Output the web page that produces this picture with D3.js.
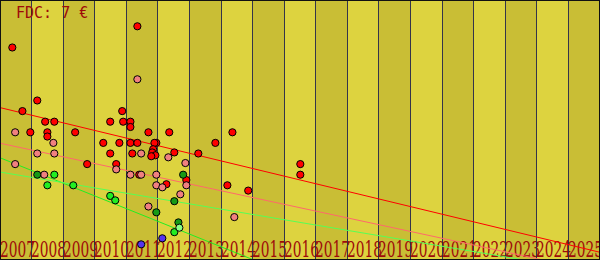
<!DOCTYPE html>
<html>
<head>
<meta charset="utf-8">
<script src="https://cdn.jsdelivr.net/npm/d3@7"></script>
<style>
  html, body { margin: 0; padding: 0; background: #fff; }
  svg { display: block; }
</style>
</head>
<body>
<svg id="chart" width="600" height="260"></svg>
<script>
// ---- data ----
const yearLabels = ["2007","2008","2009","2010","2011","2012","2013","2014","2015","2016",
                    "2017","2018","2019","2020","2021","2022","2023","2024","2025"];
const titleText = "FDC: 7 €";

// points: [decimal year, price]
const redPoints = [
  [2007.39,20],[2011.35,22],[2008.18,15],[2007.71,14],[2010.87,14],
  [2008.43,13],[2008.72,13],[2010.49,13],[2010.90,13],[2011.13,13],[2011.13,12.5],
  [2007.96,12],[2008.50,12],[2008.50,11.6],[2009.38,12],[2011.70,12],[2012.36,12],[2014.36,12],
  [2009.76,9],[2010.27,11],[2010.78,11],[2011.13,11],[2011.35,11],[2011.95,11],[2011.89,11],[2013.82,11],
  [2010.49,10],[2011.19,10],[2011.85,10.4],[2011.82,10.1],[2011.92,9.83],[2011.79,9.74],
  [2012.52,10.1],[2013.28,10],[2010.68,9],[2011.41,8],[2012.90,7.5],[2012.27,7.1],
  [2014.20,7],[2014.86,6.5],[2016.51,9],[2016.51,8]
];
const pinkPoints = [
  [2011.35,17],[2007.48,12],[2008.69,11],[2008.18,10],[2008.72,10],[2007.48,9],
  [2008.40,8],[2011.47,10],[2012.33,9.64],[2012.87,9.1],[2010.68,8.5],[2011.13,8],
  [2011.47,8],[2011.95,8],[2012.90,7],[2011.95,7],[2012.14,6.81],[2012.71,6.15],
  [2011.70,5],[2014.42,4]
];
const darkGreenPoints = [[2008.18,8],[2012.80,8],[2012.52,5.5],[2011.95,4.45],[2012.65,3.5]];
const greenPoints = [[2008.72,8],[2008.50,7],[2009.32,7],[2010.49,6],[2010.65,5.58],[2012.52,2.58]];
const paleGreenPoints = [[2012.68,3]];
const bluePoints = [[2012.14,2],[2011.47,1.43]];

// trend lines: [year, price] endpoints
const redTrend = [[2007,14.33],[2026,0.68]];
const pinkTrend = [[2007,10.97],[2026,-1.2]];
const greenTrendSteep = [[2007,9.6],[2026,-13.2]];
const greenTrendFlat = [[2007,8.25],[2026,-1.25]];

// ---- drawing ----
const W = 600, H = 260;
const svg = d3.select("#chart");
const x = d3.scaleLinear().domain([2007, 2026]).range([0, W]);
const y = d3.scaleLinear().domain([0, 24.48]).range([259.5, 0]);
const years = yearLabels.map(Number);

// stripes
svg.append("g").selectAll("rect").data(years).join("rect")
  .attr("x", d => Math.floor(x(d)))
  .attr("y", 0)
  .attr("width", d => Math.floor(x(d + 1)) - Math.floor(x(d)))
  .attr("height", H)
  .attr("fill", (d, i) => i % 2 === 0 ? "#c9be35" : "#ddd33f");

// axis: gridlines + labels
const axis = d3.axisBottom(x).tickValues(years).tickSize(-H).tickFormat((d, i) => yearLabels[i]);
const ag = svg.append("g").attr("transform", `translate(0,${H})`).call(axis);
ag.select(".domain").remove();
ag.selectAll(".tick").attr("transform", d => `translate(${Math.floor(x(d)) + 0.5},0)`);
ag.selectAll(".tick line").attr("stroke", "#34344a").attr("stroke-width", 1);
ag.selectAll(".tick text")
  .attr("x", -0.5).attr("y", -3.5).attr("dy", null)
  .attr("text-anchor", "start")
  .attr("fill", "#9e0a0a")
  .attr("font-family", "'DejaVu Serif', serif")
  .attr("font-size", 23)
  .attr("textLength", 35)
  .attr("lengthAdjust", "spacingAndGlyphs");

// trend lines
const line = d3.line().x(d => x(d[0])).y(d => y(d[1]));
const trends = [
  [redTrend, "#ff0000"],
  [pinkTrend, "#ff6a6a"],
  [greenTrendSteep, "#22ee22"],
  [greenTrendFlat, "#55ff55"]
];
svg.append("clipPath").attr("id", "clip").append("rect").attr("width", W).attr("height", H);
svg.append("g").attr("clip-path", "url(#clip)").selectAll("path").data(trends).join("path")
  .attr("d", d => line(d[0]))
  .attr("fill", "none")
  .attr("stroke", d => d[1])
  .attr("stroke-width", 1);

// points
const series = [
  [redPoints, "#ff0000"],
  [pinkPoints, "#f08080"],
  [darkGreenPoints, "#169a16"],
  [greenPoints, "#22ee22"],
  [paleGreenPoints, "#88ff88"],
  [bluePoints, "#5533ee"]
];
series.forEach(([pts, col]) => {
  svg.append("g").selectAll("circle").data(pts).join("circle")
    .attr("cx", d => x(d[0]))
    .attr("cy", d => y(d[1]))
    .attr("r", 3.6)
    .attr("fill", col)
    .attr("stroke", "#000")
    .attr("stroke-width", 1);
});

// title
svg.append("text")
  .attr("x", 16).attr("y", 17.5)
  .attr("fill", "#9e0a0a")
  .attr("font-family", "'DejaVu Sans Mono', monospace")
  .attr("font-size", 15)
  .text(titleText);

// border
svg.append("rect")
  .attr("x", 0.5).attr("y", 0.5).attr("width", W - 1).attr("height", H - 1)
  .attr("fill", "none").attr("stroke", "#111").attr("stroke-width", 1);
</script>
</body>
</html>
